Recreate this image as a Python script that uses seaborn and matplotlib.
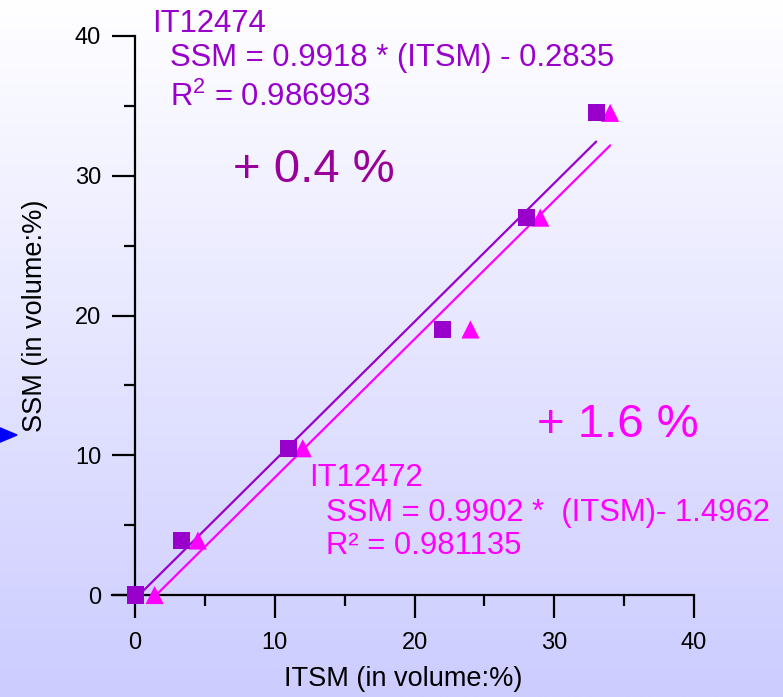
import numpy as np
import pandas as pd
import matplotlib
matplotlib.use("Agg")
import matplotlib.pyplot as plt
from matplotlib.patches import Polygon
import matplotlib.colors as mcolors
import seaborn as sns

# data
itsm_12474 = [0, 3.3, 11, 22, 28, 33]
ssm_12474 = [0, 3.9, 10.5, 19, 27, 34.5]
itsm_12472 = [1.4, 4.5, 12, 24, 29, 34]
ssm_12472 = [0, 3.9, 10.5, 19, 27, 34.5]

# regression coefficients printed on the chart
fit_12474 = (0.9918, -0.2835)
fit_12472 = (0.9902, -1.4962)

x_ticks = [0, 10, 20, 30, 40]
y_ticks = [0, 10, 20, 30, 40]
minor_ticks = [5, 15, 25, 35]

purple = "#9900CC"
magenta = "#FF00FF"
dark_purple = "#990099"

sns.set_style("ticks")
plt.rcParams["font.family"] = ["Liberation Sans", "DejaVu Sans"]
plt.rcParams["mathtext.fontset"] = "custom"
plt.rcParams["mathtext.rm"] = "Liberation Sans"
plt.rcParams["mathtext.it"] = "Liberation Sans"

fig = plt.figure(figsize=(7.83, 6.97), dpi=100)

# gradient background, white at the top to light lavender at the bottom
bg = fig.add_axes([0, 0, 1, 1], zorder=-10)
cmap = mcolors.LinearSegmentedColormap.from_list("bg", ["#CCCCFF", "#FFFFFF"])
bg.imshow(np.linspace(0, 1, 256).reshape(-1, 1), aspect="auto", cmap=cmap,
          origin="lower", extent=[0, 1, 0, 1])
bg.axis("off")

ax = fig.add_axes([112 / 783, 1 - 595 / 697, (694 - 112) / 783, (595 - 36) / 697])
ax.set_facecolor("none")

df_a = pd.DataFrame({"ITSM": itsm_12474, "SSM": ssm_12474})
df_b = pd.DataFrame({"ITSM": itsm_12472, "SSM": ssm_12472})

# fit lines over the range of each series
xa = np.array([min(itsm_12474), max(itsm_12474)])
xb = np.array([min(itsm_12472), max(itsm_12472)])
sns.lineplot(x=xa, y=fit_12474[0] * xa + fit_12474[1], color=purple, lw=1.6, ax=ax)
sns.lineplot(x=xb, y=fit_12472[0] * xb + fit_12472[1], color=magenta, lw=1.6, ax=ax)

sns.scatterplot(data=df_b, x="ITSM", y="SSM", marker="^", s=170, color=magenta,
                edgecolor="none", ax=ax, clip_on=False, zorder=4)
sns.scatterplot(data=df_a, x="ITSM", y="SSM", marker="s", s=150, color=purple,
                edgecolor="none", ax=ax, clip_on=False, zorder=5)

ax.set_xlim(-1.65, 40)
ax.set_ylim(0, 40)
ax.spines["left"].set_position(("data", 0))
ax.spines["top"].set_visible(False)
ax.spines["right"].set_visible(False)
for s in ["left", "bottom"]:
    ax.spines[s].set_linewidth(1.6)
    ax.spines[s].set_color("black")

ax.set_xticks(x_ticks)
ax.set_yticks(y_ticks)
ax.set_xticks(minor_ticks, minor=True)
ax.set_yticks(minor_ticks, minor=True)
ax.tick_params(which="both", bottom=True, left=True, top=False, right=False)
ax.tick_params(which="major", direction="out", length=16.5, width=1.6,
               labelsize=17, color="black", labelcolor="black")
ax.tick_params(which="minor", direction="out", length=8, width=1.6, color="black")
ax.tick_params(axis="x", which="major", pad=10)
ax.tick_params(axis="y", which="major", pad=8)

ax.set_xlabel("ITSM (in volume:%)", fontsize=19.5, labelpad=9, color="black")
ax.set_ylabel("SSM (in volume:%)", fontsize=19.5, color="black")
ax.yaxis.set_label_coords((48 - 112) / 582, 0.5)

# annotations
ax.text(1.22, 40.3, "IT12474", color=purple, fontsize=22.3, va="baseline")
ax.text(2.5, 37.85, "SSM = 0.9918 * (ITSM) - 0.2835", color=purple, fontsize=22.3, va="baseline")
ax.text(2.5, 35.0, "R$^2$ = 0.986993", color=purple, fontsize=22.3, va="baseline")
ax.text(7.0, 29.55, "+ 0.4 %", color=dark_purple, fontsize=34, va="baseline")

ax.text(28.77, 11.3, "+ 1.6 %", color=magenta, fontsize=34, va="baseline")
ax.text(12.45, 7.8, "IT12472", color=magenta, fontsize=22.3, va="baseline")
ax.text(13.67, 5.3, "SSM = 0.9902 *  (ITSM)- 1.4962", color=magenta, fontsize=22.3, va="baseline")
ax.text(13.67, 2.93, "R² = 0.981135", color=magenta, fontsize=22.3, va="baseline")

# small blue pointer on the left edge
fig.patches.append(Polygon([(-2 / 783, 1 - 427 / 697), (17 / 783, 1 - 435 / 697),
                            (-2 / 783, 1 - 443 / 697)], closed=True,
                           transform=fig.transFigure, color="#0000FF"))

fig.savefig("out.png", dpi=100)
